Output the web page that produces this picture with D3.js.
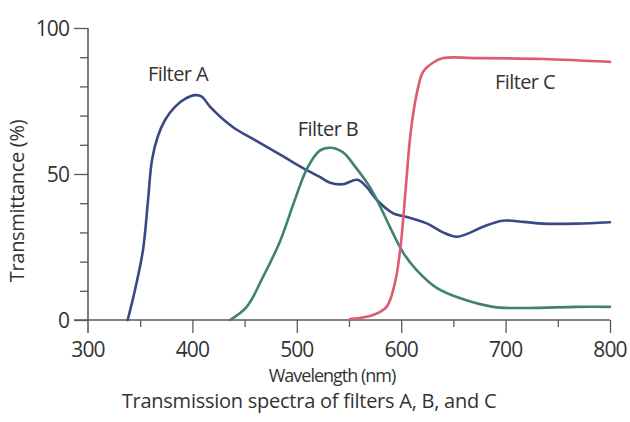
<!DOCTYPE html>
<html>
<head>
<meta charset="utf-8">
<script src="https://cdn.jsdelivr.net/npm/d3@7"></script>
<style>
  html, body { margin: 0; padding: 0; background: #fff; }
  svg { display: block; }
  text { font-family: "Open Sans", "Noto Sans", sans-serif; fill: #333; }
</style>
</head>
<body>
<svg id="chart" width="630" height="422"></svg>
<script>
// ---- Data ----
const xTickLabels = [300, 400, 500, 600, 700, 800];
const yTickLabels = [0, 50, 100];

const filterA_nm = [338, 345, 352.7, 357.5, 361.3, 367, 373.8, 383.3, 392.9, 402.5, 409, 417, 439, 458, 487, 506, 522, 532, 544, 558, 567, 577, 592, 608, 625, 640, 653, 663, 679, 697, 717, 736, 768, 800];
const filterA_T  = [0, 10.3, 24, 41, 54.8, 63, 68.5, 73, 75.7, 77, 76.5, 73, 66, 62, 56, 52, 49, 47, 46.5, 48, 45.5, 41, 36.6, 35, 33, 30, 28.5, 29.5, 32, 34, 33.6, 33, 33, 33.5];

const filterB_nm = [436, 452, 468, 484, 497, 510, 522, 532, 544, 557, 570, 577, 589, 602, 615, 634, 656, 688, 720, 768, 800];
const filterB_T  = [0, 4.5, 15, 27, 40, 52, 58, 59, 57.5, 52, 45.5, 41, 32, 23, 17, 11, 7.5, 4.5, 4.1, 4.5, 4.5];

const filterC_nm = [551, 573, 586, 594, 599, 602, 605, 609, 615, 621, 630, 640, 672, 736, 800];
const filterC_T  = [0.3, 1.7, 4.5, 12.7, 24, 35, 48, 64, 77.7, 85, 88, 89.7, 89.7, 89.4, 88.4];

const seriesNames = ["Filter A", "Filter B", "Filter C"];

// ---- Layout ----
const svg = d3.select("#chart");
const x = d3.scaleLinear().domain([300, 800]).range([88, 610]);
const y = d3.scaleLinear().domain([0, 100]).range([320, 28]);

const axisColor = "#5a5a5a";

// Y axis
const yAxis = d3.axisLeft(y).tickValues(d3.range(0, 101, 10)).tickSize(8).tickFormat("");
const gy = svg.append("g").attr("transform", "translate(88,0)").call(yAxis);
gy.select(".domain").remove();
gy.selectAll(".tick line").attr("stroke", axisColor).attr("stroke-width", 1.3)
  .attr("x2", d => yTickLabels.includes(d) ? -14 : -8);
svg.append("line").attr("x1", 88).attr("x2", 88).attr("y1", y(100)).attr("y2", 333)
  .attr("stroke", axisColor).attr("stroke-width", 1.6);
svg.append("g").selectAll("text").data(yTickLabels).join("text")
  .attr("x", 69).attr("y", d => y(d)).attr("dy", "0.36em")
  .attr("text-anchor", "end").attr("font-size", 21).attr("letter-spacing", -0.9)
  .text(d => d);

// X axis
const xAxis = d3.axisBottom(x).tickValues(d3.range(350, 801, 50)).tickSize(8).tickFormat("");
const gx = svg.append("g").attr("transform", `translate(0,${y(0)})`).call(xAxis);
gx.select(".domain").remove();
gx.selectAll(".tick line").attr("stroke", axisColor).attr("stroke-width", 1.3)
  .attr("y2", d => d % 100 === 0 ? 13 : 7);
svg.append("line").attr("x1", 74).attr("x2", 610).attr("y1", y(0)).attr("y2", y(0))
  .attr("stroke", axisColor).attr("stroke-width", 1.6);
svg.append("g").selectAll("text").data(xTickLabels).join("text")
  .attr("x", d => x(d)).attr("y", 357)
  .attr("text-anchor", "middle").attr("font-size", 21).attr("letter-spacing", -0.9)
  .text(d => d);

// Axis titles
svg.append("text").attr("x", 332).attr("y", 382).attr("text-anchor", "middle")
  .attr("font-size", 18).attr("letter-spacing", -1.0).text("Wavelength (nm)");
svg.append("text").attr("x", 309).attr("y", 408).attr("text-anchor", "middle")
  .attr("font-size", 20).attr("letter-spacing", -0.25).text("Transmission spectra of filters A, B, and C");
svg.append("text").attr("transform", "translate(24,201) rotate(-90)").attr("text-anchor", "middle")
  .attr("font-size", 20).attr("letter-spacing", -0.3).text("Transmittance (%)");

// Curves
const line = d3.line().x(d => x(d[0])).y(d => y(d[1])).curve(d3.curveCatmullRom.alpha(0.5));
const series = [
  { nm: filterA_nm, T: filterA_T, color: "#3a4886" },
  { nm: filterB_nm, T: filterB_T, color: "#3f8270" },
  { nm: filterC_nm, T: filterC_T, color: "#dc5c72" }
];
svg.append("g").selectAll("path").data(series).join("path")
  .attr("d", s => line(s.nm.map((v, i) => [v, s.T[i]])))
  .attr("fill", "none").attr("stroke", s => s.color).attr("stroke-width", 2.6)
  .attr("stroke-linejoin", "round").attr("stroke-linecap", "round");

// Series labels
const labelPos = [[178, 81], [328, 136], [525, 89]];
svg.append("g").selectAll("text").data(seriesNames).join("text")
  .attr("x", (d, i) => labelPos[i][0]).attr("y", (d, i) => labelPos[i][1])
  .attr("text-anchor", "middle").attr("font-size", 20).attr("letter-spacing", -0.6)
  .text(d => d);
</script>
</body>
</html>
